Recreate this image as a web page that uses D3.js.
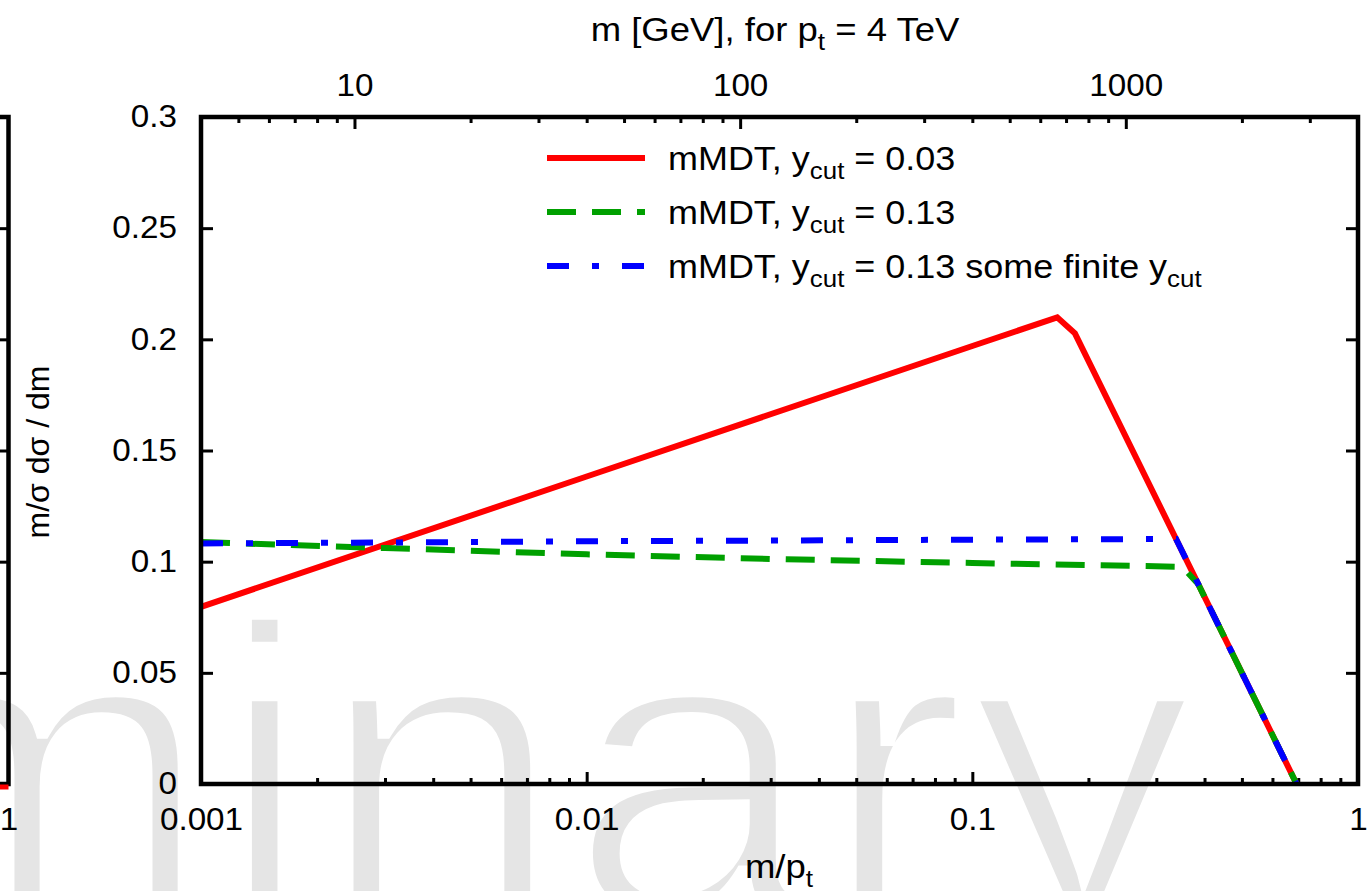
<!DOCTYPE html>
<html><head><meta charset="utf-8">
<script src="https://cdn.jsdelivr.net/npm/d3@7"></script>
<style>
html,body{margin:0;padding:0;background:#fff;overflow:hidden;}
svg{display:block;}
text{font-family:"Liberation Sans",Arial,Helvetica,sans-serif;fill:#000;}
</style></head><body>
<svg id="chart" width="1370" height="891"></svg>
<script>
// ---- data ----
const xMajorTicks = [0.001, 0.01, 0.1, 1];
const xMajorLabels = ["0.001", "0.01", "0.1", "1"];
const mMajorTicks = [10, 100, 1000];
const mMajorLabels = ["10", "100", "1000"];
const yTicks = [0, 0.05, 0.1, 0.15, 0.2, 0.25, 0.3];
const yTickLabels = ["0", "0.05", "0.1", "0.15", "0.2", "0.25", "0.3"];
const ptGeV = 4000;

const seriesNames = ["mMDT, y|cut| = 0.03", "mMDT, y|cut| = 0.13", "mMDT, y|cut| = 0.13 some finite y|cut|"];
const seriesColors = ["#ff0000", "#00a000", "#0000ff"];

const redX   = [0.001, 0.01, 0.1, 0.166, 0.1845, 0.693];
const redY   = [0.0797, 0.1383, 0.197, 0.2099, 0.2027, 0];
const greenX = [0.001, 0.003, 0.01, 0.03, 0.1, 0.35, 0.385, 0.693];
const greenY = [0.1088, 0.1061, 0.1033, 0.1012, 0.0994, 0.0977, 0.0900, 0];
const blueX  = [0.001, 0.003, 0.01, 0.03, 0.1, 0.3375, 0.693];
const blueY  = [0.1082, 0.1086, 0.1092, 0.1095, 0.1099, 0.1102, 0];

// neighbouring (cropped) panel: its last red segment near m/pt = 1
const leftRedX = [0.95, 1];
const leftRedY = [0, 0];

const watermark = "Preliminary";

// ---- layout ----
const SX = 1.09;           // horizontal text stretch seen in the reference
const FS = 30.5;
const FS_KEY = 33;
const FS_TITLE = 33.5;
const svg = d3.select("#chart");
const L = 201, R = 1358, T = 117, B = 784;

const x = d3.scaleLog().domain([0.001, 1]).range([L, R]);
const m = d3.scaleLog().domain([0.001 * ptGeV, 1 * ptGeV]).range([L, R]);
const y = d3.scaleLinear().domain([0, 0.3]).range([B, T]);
const xLeft = d3.scaleLog().domain([0.001, 1]).range([8.5 - (R - L), 8.5]);

// watermark
svg.append("text")
  .attr("transform", `translate(1195,914) scale(${SX},1)`)
  .attr("text-anchor", "end")
  .style("font-size", "415px")
  .style("fill", "#e5e5e5")
  .style("stroke", "#fff")
  .style("stroke-width", "13px")
  .text(watermark);

function richText(sel, str, subSize, subDy) {
  const parts = str.split("|");
  parts.forEach((p, i) => {
    if (!p) return;
    const t = sel.append("tspan").text(p);
    if (i % 2 === 1) {
      t.style("font-size", subSize + "px").attr("dy", subDy);
    } else if (i > 0) {
      t.attr("dy", -subDy);
    }
  });
}
function label(x0, y0, str, anchor, size) {
  const t = svg.append("text")
    .attr("transform", `translate(${x0},${y0}) scale(${SX},1)`)
    .attr("text-anchor", anchor)
    .style("font-size", size + "px");
  richText(t, str, size * 0.72, 9);
  return t;
}

function styleAxis(g) {
  g.select(".domain").remove();
  g.selectAll(".tick line").attr("stroke", "#000").attr("stroke-width", 3);
  g.selectAll(".tick text")
    .style("font-size", FS + "px")
    .style("font-family", '"Liberation Sans",Arial,Helvetica,sans-serif')
    .attr("transform", `scale(${SX},1)`);
}

// ---- left cropped panel ----
const gl = svg.append("g");
gl.append("g").attr("transform", "translate(8.5,0)")
  .call(d3.axisRight(y).tickValues(yTicks).tickSize(-12).tickFormat(""))
  .call(styleAxis);
gl.append("g").attr("transform", `translate(0,${B})`)
  .call(d3.axisBottom(xLeft).tickValues([1]).tickSize(0).tickPadding(24).tickFormat(() => "1"))
  .call(styleAxis);
gl.append("path")
  .attr("d", `M${xLeft(0.9)},${T}H8.5V${B}H${xLeft(0.9)}`)
  .attr("fill", "none").attr("stroke", "#000").attr("stroke-width", 4.5);
gl.append("path")
  .datum(leftRedX.map((d, i) => [d, leftRedY[i]]))
  .attr("d", d3.line().x(d => xLeft(d[0])).y(d => y(d[1]) + 3))
  .attr("fill", "none").attr("stroke", "#ff0000").attr("stroke-width", 5);

// ---- axes ----
const xMinor = x.ticks().filter(v => !xMajorTicks.some(t => Math.abs(t - v) / t < 1e-9));
const mMinor = m.ticks().filter(v => !mMajorTicks.some(t => Math.abs(t - v) / t < 1e-9) && v > 4.0001 && v < 3999);

svg.append("g").attr("transform", `translate(0,${B})`)
  .call(d3.axisBottom(x).tickValues(xMajorTicks).tickSize(-12).tickPadding(24)
    .tickFormat((d, i) => xMajorLabels[i]))
  .call(styleAxis);
svg.append("g").attr("transform", `translate(0,${B})`)
  .call(d3.axisBottom(x).tickValues(xMinor).tickSize(-6).tickFormat(""))
  .call(styleAxis);
svg.append("g").attr("transform", `translate(0,${T})`)
  .call(d3.axisTop(m).tickValues(mMajorTicks).tickSize(-12).tickPadding(21)
    .tickFormat((d, i) => mMajorLabels[i]))
  .call(styleAxis);
svg.append("g").attr("transform", `translate(0,${T})`)
  .call(d3.axisTop(m).tickValues(mMinor).tickSize(-6).tickFormat(""))
  .call(styleAxis);
svg.append("g").attr("transform", `translate(${L},0)`)
  .call(d3.axisLeft(y).tickValues(yTicks).tickSize(-12).tickPadding(22)
    .tickFormat((d, i) => yTickLabels[i]))
  .call(styleAxis);
svg.append("g").attr("transform", `translate(${R},0)`)
  .call(d3.axisRight(y).tickValues(yTicks).tickSize(-12).tickFormat(""))
  .call(styleAxis);

// ---- series ----
const line = d3.line().x(d => x(d[0])).y(d => y(d[1]));
const series = [
  { xs: redX, ys: redY, dash: null },
  { xs: greenX, ys: greenY, dash: "29,16" },
  { xs: blueX, ys: blueY, dash: "22,23,7,23" }
];
series.forEach((s, i) => {
  svg.append("path")
    .datum(s.xs.map((v, j) => [v, s.ys[j]]))
    .attr("d", line)
    .attr("fill", "none")
    .attr("stroke", seriesColors[i])
    .attr("stroke-width", 6)
    .attr("stroke-linejoin", "miter")
    .attr("stroke-dasharray", s.dash);
});

// frame
svg.append("rect").attr("x", L).attr("y", T).attr("width", R - L).attr("height", B - T)
  .attr("fill", "none").attr("stroke", "#000").attr("stroke-width", 4.5);

// ---- legend ----
const legY = [158, 212, 266];
series.forEach((s, i) => {
  svg.append("line")
    .attr("x1", 547).attr("x2", 645).attr("y1", legY[i]).attr("y2", legY[i])
    .attr("stroke", seriesColors[i]).attr("stroke-width", 6)
    .attr("stroke-dasharray", s.dash);
  label(668, legY[i] + 12, seriesNames[i], "start", FS_KEY);
});

// ---- titles ----
label(775, 41, "m [GeV], for p|t| = 4 TeV", "middle", FS_TITLE);
label(779, 878, "m/p|t|", "middle", FS_TITLE);
svg.append("text")
  .attr("transform", "translate(49,452) rotate(-90)")
  .attr("text-anchor", "middle")
  .style("font-size", "32px")
  .text("m/σ dσ / dm");
</script>
</body></html>
